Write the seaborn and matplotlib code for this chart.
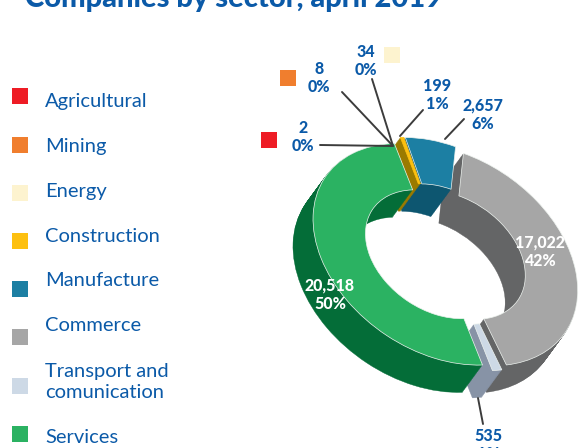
import matplotlib
matplotlib.use("Agg")
import matplotlib.pyplot as plt
from matplotlib.patches import Rectangle
from matplotlib.transforms import Affine2D
import seaborn as sns

title = "Companies by sector, april 2019"
sectors = ["Agricultural", "Mining", "Energy", "Construction", "Manufacture",
           "Commerce", "Transport and\ncomunication", "Services"]
values = [2, 8, 34, 199, 2657, 17022, 535, 20518]
shares = ["0%", "0%", "0%", "1%", "6%", "42%", "1%", "50%"]
top_colors = ["#ee1c25", "#f07e2e", "#fdf3cf", "#fdc010", "#1c7fa3", "#a6a6a6", "#cdd9e6", "#2bb262"]
wall_colors = ["#9a7a00", "#9a7a00", "#9a7a00", "#9a7a00", "#0d5670", "#646566", "#8793a6", "#046d38"]
explode = [0.05, 0.05, 0.05, 0.05, 0.05, 0.055, 0.05, 0.06]

legend_baseline = [107, 152, 197, 242, 286, 331, 398, 443]
legend_box_y = [96, 145, 193, 241, 289, 337, 386, 434]

BLUE = "#0b5aa8"
sns.set_theme(style="white")
plt.rcParams["font.family"] = ["Lato", "DejaVu Sans"]

fig = plt.figure(figsize=(5.79, 4.48), dpi=100)
ax = fig.add_axes([0, 0, 1, 1])

to_screen = Affine2D.from_values(131, 37, 0, -110, 445.5, 254)
layers = 32
drop_u, drop_w = -0.153, -0.30

for layer in range(layers + 1):
    f = 1 - layer / layers
    wedges, _ = ax.pie(values, explode=explode, startangle=110.5, counterclock=False,
                       radius=0.955, center=(drop_u * f, drop_w * f),
                       wedgeprops=dict(width=0.40))
    for i, w in enumerate(wedges):
        top = layer == layers
        c = top_colors[i] if top else wall_colors[i]
        w.set_facecolor(c)
        if i < 3:
            w.set_edgecolor("none")
            w.set_linewidth(0)
            w.set_visible(values[i] / sum(values) > 0.005)
        else:
            w.set_edgecolor("#eef3ef" if top and i != 3 else c)
            w.set_linewidth(0.5 if top else 0.3)
        w.set_transform(to_screen + ax.transData)
        w.set_zorder(2 + layer * 0.1)

ax.set_aspect("auto")
ax.set_xlim(0, 579)
ax.set_ylim(448, 0)
ax.axis("off")

ax.text(234, 7, title, ha="center", va="baseline", color=BLUE, fontsize=21, fontweight="black")

for i, name in enumerate(sectors):
    ax.add_patch(Rectangle((12, legend_box_y[i] - 8), 16, 16, color=top_colors[i], lw=0, zorder=3))
    ax.text(45, legend_baseline[i], name, ha="left", va="baseline", color=BLUE, fontsize=14.5,
            linespacing=1.25)

ax.add_patch(Rectangle((261, 132), 16, 16, color=top_colors[0], lw=0))
ax.add_patch(Rectangle((280, 70), 16, 16, color=top_colors[1], lw=0))
ax.add_patch(Rectangle((384, 47), 16, 16, color=top_colors[2], lw=0))

label_xy = [(303, 137), (319, 78), (366, 61), (437, 95), (483, 115), (540, 252), (488, 445), (330, 295)]
label_color = [BLUE, BLUE, BLUE, BLUE, BLUE, "white", BLUE, "white"]
for i in range(8):
    ax.text(label_xy[i][0], label_xy[i][1], f"{values[i]:,}\n{shares[i]}", ha="center", va="center",
            color=label_color[i], fontsize=11.5, fontweight="black", linespacing=1.2, zorder=20)

leader_from = [(320, 145), (342, 92), (372, 79), (423, 110), (464, 119), (478, 398)]
leader_to = [(392, 146), (393, 146), (393, 146), (400, 136), (445, 139), (483, 424)]
for a, b in zip(leader_from, leader_to):
    ax.plot([a[0], b[0]], [a[1], b[1]], color="#3c3c3c", lw=1.4, zorder=15)

fig.savefig("out.png", dpi=100)
